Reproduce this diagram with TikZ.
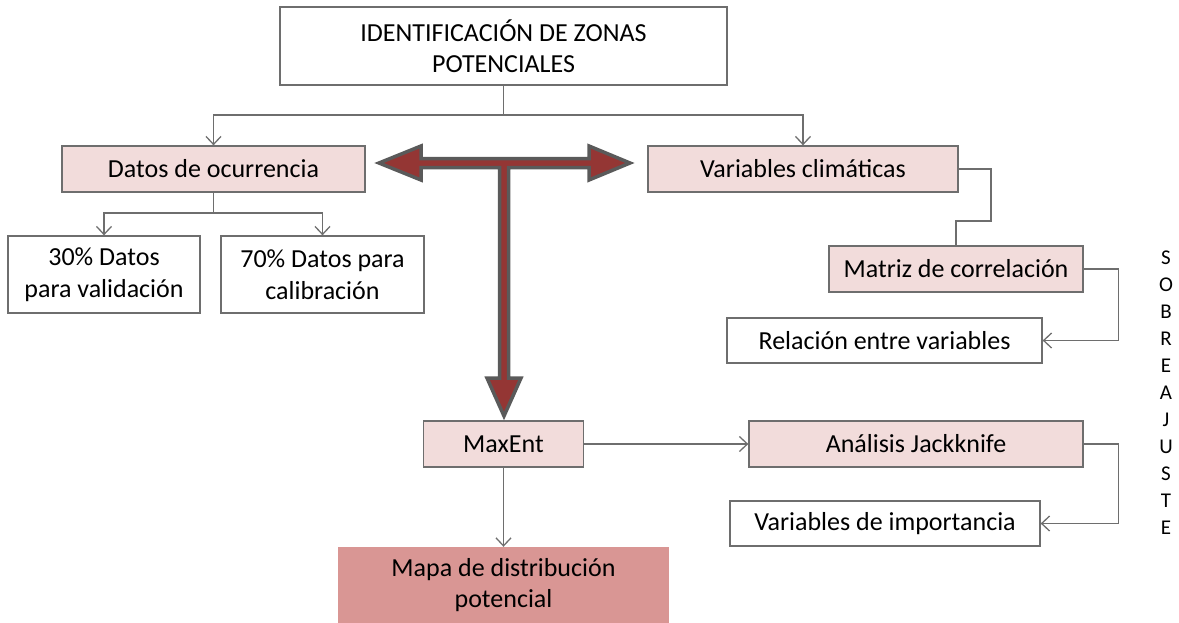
\documentclass[tikz,border=0pt]{standalone}
\usepackage{fontspec}
\setmainfont{Carlito}
\usetikzlibrary{arrows.meta}
\definecolor{linegray}{HTML}{6E6E6E}
\definecolor{boxpink}{HTML}{F2DCDB}
\definecolor{mappink}{HTML}{D99694}
\definecolor{arrowred}{HTML}{943634}
\definecolor{arrowedge}{HTML}{5A5A5A}
\begin{document}
\begin{tikzpicture}[x=1pt,y=-1pt,
  box/.style={draw=linegray, line width=1.3pt, fill=white, inner sep=0pt,
    font=\fontsize{26}{31}\selectfont, align=center},
  pinkbox/.style={box, fill=boxpink},
  conn/.style={draw=linegray, line width=1.3pt},
  arr/.style={conn, -{Straight Barb[length=8pt,width=15pt,line width=1.3pt]}},
  bigarrow/.style={fill=arrowred, draw=arrowedge, line width=3.5pt, line join=miter}]
\useasboundingbox (0,0) rectangle (1179,622);

% boxes
\node[box, minimum width=447pt, minimum height=78pt] (top) at (503.5,46) {IDENTIFICACIÓN DE ZONAS\\POTENCIALES};
\node[pinkbox, minimum width=303pt, minimum height=46pt] (datos) at (213.5,169) {Datos de ocurrencia};
\node[pinkbox, minimum width=310pt, minimum height=46pt] (var) at (803,169) {Variables climáticas};
\node[box, minimum width=192pt, minimum height=77pt, font=\fontsize{26}{32}\selectfont] (val) at (104,274.5) {30\% Datos\\para validación};
\node[box, minimum width=203pt, minimum height=77pt, font=\fontsize{26}{32}\selectfont] (cal) at (322.5,274.5) {70\% Datos para\\calibración};
\node[pinkbox, minimum width=254pt, minimum height=46pt] (matriz) at (956,269) {Matriz de correlación};
\node[box, minimum width=315pt, minimum height=45pt] (rel) at (884.5,340.5) {Relación entre variables};
\node[pinkbox, minimum width=160pt, minimum height=46pt] (maxent) at (503.5,444) {MaxEnt};
\node[pinkbox, minimum width=334pt, minimum height=46pt] (jack) at (916,444) {Análisis Jackknife};
\node[box, minimum width=310pt, minimum height=45pt] (imp) at (885,523.5) {Variables de importancia};
\node[fill=mappink, inner sep=0pt, minimum width=331pt, minimum height=76pt,
  font=\fontsize{26}{31}\selectfont, align=center] (mapa) at (503.5,585) {Mapa de distribución\\potencial};
\node[inner sep=0pt, align=center, font=\fontsize{21}{27}\selectfont] (sobre) at (1166,393)
  {S\\O\\B\\R\\E\\A\\J\\U\\S\\T\\E};

% connectors
\coordinate (j1) at (503.5,115);
\draw[conn] (top.south) -- (j1);
\draw[arr] (j1) -| (datos.north);
\draw[arr] (j1) -| (var.north);

\coordinate (j2) at (213.5,213);
\draw[conn] (datos.south) -- (j2);
\draw[arr] (j2) -| (val.north);
\draw[arr] (j2) -| (cal.north);

\coordinate (c1) at (991,221);
\draw[conn] (var.east) -| (c1) -| (matriz.north);
\draw[arr] (matriz.east) -- ++(35,0) |- (rel.east);

\draw[arr] (maxent.east) -- (jack.west);
\draw[arr] (jack.east) -- ++(35,0) |- (imp.east);
\draw[arr] (maxent.south) -- (mapa.north);

% big T arrow
\draw[bigarrow] (379,163) -- (421,146) -- (421,158.5) -- (589,158.5) -- (589,146)
  -- (630,163) -- (589,180) -- (589,167.5) -- (508.5,167.5) -- (508.5,378)
  -- (521,378) -- (504,416) -- (487,378) -- (499.5,378) -- (499.5,167.5)
  -- (421,167.5) -- (421,180) -- cycle;
\end{tikzpicture}
\end{document}
